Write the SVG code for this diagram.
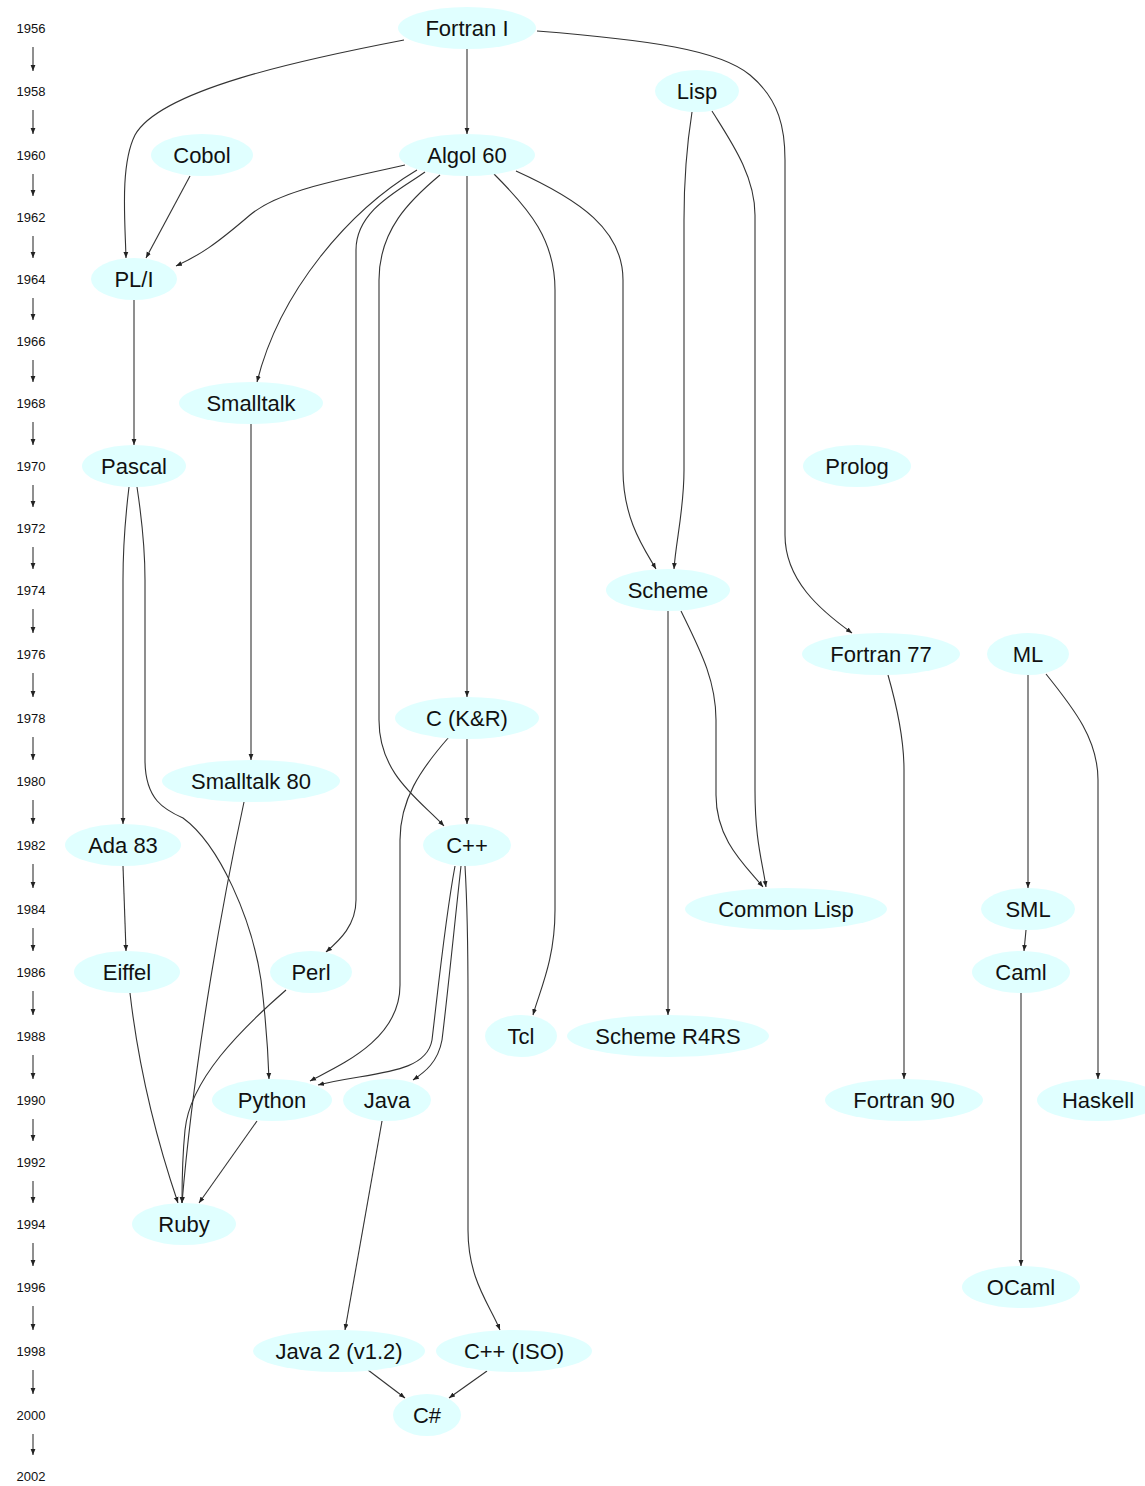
<svg xmlns="http://www.w3.org/2000/svg" width="1145" height="1486" viewBox="0 0 1145 1486">
<style>
.n ellipse{fill:#e0ffff;stroke:none}
.n text{font-family:"Liberation Sans",Arial,sans-serif;font-size:22px;fill:#111;text-anchor:middle;dominant-baseline:central}
.y text{font-family:"Liberation Sans",Arial,sans-serif;font-size:13px;fill:#111;text-anchor:middle;dominant-baseline:central}
.e path,.y path{fill:none;stroke:#333;stroke-width:1.1;marker-end:url(#ah)}
</style>
<defs>
<marker id="ah" markerUnits="userSpaceOnUse" markerWidth="8" markerHeight="6" refX="6" refY="3" orient="auto"><path d="M0,0.6 L6,3 L0,5.4 z" fill="#222"/></marker>
</defs>
<rect width="1145" height="1486" fill="#fff"/>
<g id="years" class="y">
<text x="31" y="28">1956</text><text x="31" y="91">1958</text><text x="31" y="155">1960</text><text x="31" y="217">1962</text><text x="31" y="279">1964</text><text x="31" y="341">1966</text><text x="31" y="403">1968</text><text x="31" y="466">1970</text><text x="31" y="528">1972</text><text x="31" y="590">1974</text><text x="31" y="654">1976</text><text x="31" y="718">1978</text><text x="31" y="781">1980</text><text x="31" y="845">1982</text><text x="31" y="909">1984</text><text x="31" y="972">1986</text><text x="31" y="1036">1988</text><text x="31" y="1100">1990</text><text x="31" y="1162">1992</text><text x="31" y="1224">1994</text><text x="31" y="1287">1996</text><text x="31" y="1351">1998</text><text x="31" y="1415">2000</text><text x="31" y="1476">2002</text>
<path d="M33,47 V71"/><path d="M33,110 V134"/><path d="M33,174 V196"/><path d="M33,236 V258"/><path d="M33,298 V320"/><path d="M33,360 V382"/><path d="M33,422 V445"/><path d="M33,485 V507"/><path d="M33,547 V569"/><path d="M33,609 V633"/><path d="M33,673 V697"/><path d="M33,737 V760"/><path d="M33,800 V824"/><path d="M33,864 V888"/><path d="M33,928 V951"/><path d="M33,991 V1015"/><path d="M33,1055 V1079"/><path d="M33,1119 V1141"/><path d="M33,1181 V1203"/><path d="M33,1243 V1266"/><path d="M33,1306 V1330"/><path d="M33,1370 V1394"/><path d="M33,1434 V1455"/>
</g>
<g id="edges" class="e">
<path d="M467,48 V134"/>
<path d="M404,40 C300,60 160,90 135,135 C120,165 125,220 126,258"/>
<path d="M537,31 C650,40 720,50 750,75 C780,100 785,130 785,160 L785,535 C785,580 820,610 852,633"/>
<path d="M692,112 C686,150 684,180 684,220 L684,470 C684,510 676,540 674,569"/>
<path d="M712,111 C730,140 755,175 755,215 L755,790 C755,840 762,860 766,887"/>
<path d="M190,176 L146,258"/>
<path d="M405,165 C340,180 280,190 250,215 C215,245 200,255 176,266"/>
<path d="M417,170 C350,210 280,290 257,382"/>
<path d="M425,172 C400,190 356,210 356,250 L356,900 C356,925 340,940 326,952"/>
<path d="M440,175 C410,200 379,230 379,280 L379,720 C379,775 420,800 444,826"/>
<path d="M467,176 V697"/>
<path d="M494,174 C530,210 555,240 555,290 L555,910 C555,960 540,990 533,1015"/>
<path d="M516,171 C580,200 623,230 623,280 L623,470 C623,520 645,550 656,569"/>
<path d="M134,300 V445"/>
<path d="M251,424 V760"/>
<path d="M129,487 C125,520 123,550 123,580 L123,824"/>
<path d="M137,487 C142,520 145,550 145,580 L145,760 C145,800 165,810 183,818 C220,845 252,920 261,980 C266,1020 268,1050 269,1079"/>
<path d="M668,611 V1015"/>
<path d="M681,611 C700,650 716,680 716,720 L716,795 C716,840 745,865 763,887"/>
<path d="M888,675 C898,710 904,740 904,770 L904,1079"/>
<path d="M1028,675 V888"/>
<path d="M1046,674 C1075,710 1098,740 1098,780 L1098,1079"/>
<path d="M467,739 V824"/>
<path d="M449,737 C420,770 400,800 400,840 L400,985 C400,1040 340,1065 310,1081"/>
<path d="M244,802 C225,890 195,1050 182,1203"/>
<path d="M123,866 L126,951"/>
<path d="M455,866 C445,920 438,990 432,1040 C426,1075 370,1072 318,1085"/>
<path d="M461,866 C455,920 447,1000 442,1040 C438,1062 425,1072 413,1080"/>
<path d="M465,866 C467,900 468,950 468,1000 L468,1230 C468,1280 490,1305 500,1330"/>
<path d="M1026,930 L1024,951"/>
<path d="M130,993 C140,1080 160,1150 178,1203"/>
<path d="M286,990 C240,1030 190,1080 185,1130 C182,1160 182,1180 182,1203"/>
<path d="M1021,993 V1266"/>
<path d="M257,1121 L199,1203"/>
<path d="M382,1121 L345,1330"/>
<path d="M368,1370 L405,1398"/>
<path d="M487,1371 L449,1398"/>
</g>
<g id="fortran1" class="n"><ellipse cx="467" cy="28" rx="69" ry="21"/><text x="467" y="28">Fortran I</text></g>
<g id="lisp" class="n"><ellipse cx="697" cy="91" rx="42" ry="21"/><text x="697" y="91">Lisp</text></g>
<g id="cobol" class="n"><ellipse cx="202" cy="155" rx="51" ry="21"/><text x="202" y="155">Cobol</text></g>
<g id="algol60" class="n"><ellipse cx="467" cy="155" rx="68" ry="21"/><text x="467" y="155">Algol 60</text></g>
<g id="pli" class="n"><ellipse cx="134" cy="279" rx="43" ry="21"/><text x="134" y="279">PL/I</text></g>
<g id="smalltalk" class="n"><ellipse cx="251" cy="403" rx="72" ry="21"/><text x="251" y="403">Smalltalk</text></g>
<g id="pascal" class="n"><ellipse cx="134" cy="466" rx="52" ry="21"/><text x="134" y="466">Pascal</text></g>
<g id="prolog" class="n"><ellipse cx="857" cy="466" rx="54" ry="21"/><text x="857" y="466">Prolog</text></g>
<g id="scheme" class="n"><ellipse cx="668" cy="590" rx="62" ry="21"/><text x="668" y="590">Scheme</text></g>
<g id="fortran77" class="n"><ellipse cx="881" cy="654" rx="79" ry="21"/><text x="881" y="654">Fortran 77</text></g>
<g id="ml" class="n"><ellipse cx="1028" cy="654" rx="41" ry="21"/><text x="1028" y="654">ML</text></g>
<g id="ckr" class="n"><ellipse cx="467" cy="718" rx="72" ry="21"/><text x="467" y="718">C (K&amp;R)</text></g>
<g id="smalltalk80" class="n"><ellipse cx="251" cy="781" rx="89" ry="21"/><text x="251" y="781">Smalltalk 80</text></g>
<g id="ada83" class="n"><ellipse cx="123" cy="845" rx="58" ry="21"/><text x="123" y="845">Ada 83</text></g>
<g id="cpp" class="n"><ellipse cx="467" cy="845" rx="44" ry="21"/><text x="467" y="845">C++</text></g>
<g id="commonlisp" class="n"><ellipse cx="786" cy="909" rx="101" ry="21"/><text x="786" y="909">Common Lisp</text></g>
<g id="sml" class="n"><ellipse cx="1028" cy="909" rx="47" ry="21"/><text x="1028" y="909">SML</text></g>
<g id="eiffel" class="n"><ellipse cx="127" cy="972" rx="53" ry="21"/><text x="127" y="972">Eiffel</text></g>
<g id="perl" class="n"><ellipse cx="311" cy="972" rx="41" ry="21"/><text x="311" y="972">Perl</text></g>
<g id="caml" class="n"><ellipse cx="1021" cy="972" rx="49" ry="21"/><text x="1021" y="972">Caml</text></g>
<g id="tcl" class="n"><ellipse cx="521" cy="1036" rx="36" ry="21"/><text x="521" y="1036">Tcl</text></g>
<g id="schemer4rs" class="n"><ellipse cx="668" cy="1036" rx="101" ry="21"/><text x="668" y="1036">Scheme R4RS</text></g>
<g id="python" class="n"><ellipse cx="272" cy="1100" rx="60" ry="21"/><text x="272" y="1100">Python</text></g>
<g id="java" class="n"><ellipse cx="387" cy="1100" rx="44" ry="21"/><text x="387" y="1100">Java</text></g>
<g id="fortran90" class="n"><ellipse cx="904" cy="1100" rx="79" ry="21"/><text x="904" y="1100">Fortran 90</text></g>
<g id="haskell" class="n"><ellipse cx="1098" cy="1100" rx="61" ry="21"/><text x="1098" y="1100">Haskell</text></g>
<g id="ruby" class="n"><ellipse cx="184" cy="1224" rx="52" ry="21"/><text x="184" y="1224">Ruby</text></g>
<g id="ocaml" class="n"><ellipse cx="1021" cy="1287" rx="59" ry="21"/><text x="1021" y="1287">OCaml</text></g>
<g id="java2" class="n"><ellipse cx="339" cy="1351" rx="86" ry="21"/><text x="339" y="1351">Java 2 (v1.2)</text></g>
<g id="cppiso" class="n"><ellipse cx="514" cy="1351" rx="78" ry="21"/><text x="514" y="1351">C++ (ISO)</text></g>
<g id="csharp" class="n"><ellipse cx="427" cy="1415" rx="34" ry="21"/><text x="427" y="1415">C#</text></g>
</svg>
